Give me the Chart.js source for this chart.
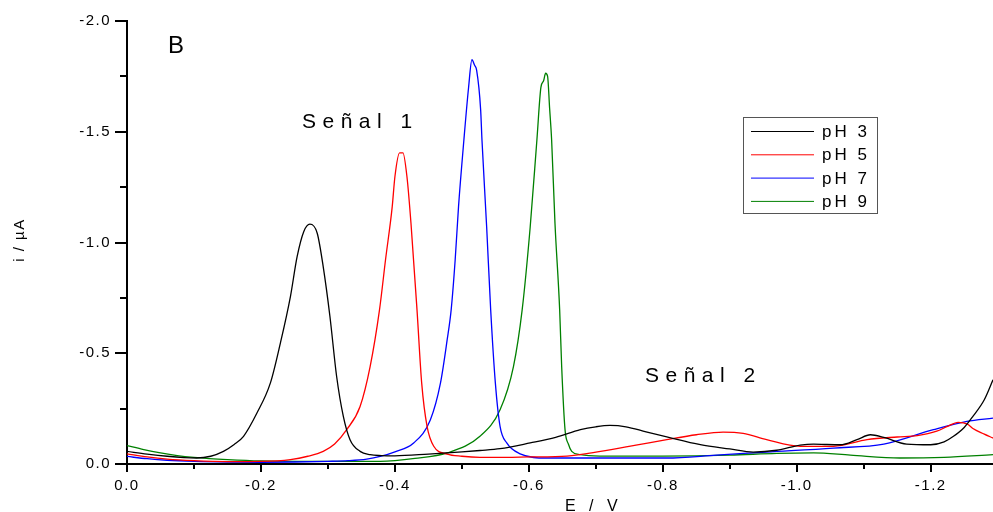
<!DOCTYPE html>
<html>
<head>
<meta charset="utf-8">
<script src="https://cdn.jsdelivr.net/npm/chart.js@4/dist/chart.umd.min.js"></script>
<style>
  html, body { margin: 0; padding: 0; background: #fff; }
  #wrap { width: 993px; height: 512px; }
</style>
</head>
<body>
<div id="wrap"><canvas id="voltChart" width="993" height="512"></canvas></div>
<script>
// Potentials (V) and currents (uA)
const ePH3 = [0, -0.03, -0.06, -0.085, -0.104, -0.125, -0.144, -0.16, -0.174, -0.194, -0.214, -0.229, -0.244, -0.254, -0.264, -0.273, -0.284, -0.293, -0.303, -0.313, -0.323, -0.333, -0.348, -0.363, -0.38, -0.4, -0.45, -0.5, -0.527, -0.557, -0.602, -0.64, -0.677, -0.7, -0.721, -0.745, -0.775, -0.806, -0.856, -0.9, -0.935, -0.97, -1.005, -1.025, -1.045, -1.065, -1.09, -1.11, -1.13, -1.164, -1.2, -1.22, -1.234, -1.25, -1.263, -1.28, -1.293];
const iPH3 = [-0.057, -0.045, -0.035, -0.029, -0.027, -0.035, -0.057, -0.088, -0.125, -0.23, -0.365, -0.546, -0.756, -0.936, -1.05, -1.083, -1.042, -0.89, -0.666, -0.395, -0.215, -0.11, -0.057, -0.042, -0.038, -0.037, -0.045, -0.055, -0.061, -0.069, -0.095, -0.12, -0.155, -0.168, -0.174, -0.168, -0.145, -0.122, -0.087, -0.068, -0.054, -0.062, -0.085, -0.09, -0.088, -0.087, -0.11, -0.132, -0.12, -0.09, -0.087, -0.1, -0.125, -0.165, -0.215, -0.29, -0.38];

const ePH5 = [0, -0.03, -0.06, -0.1, -0.15, -0.2, -0.244, -0.27, -0.293, -0.31, -0.328, -0.348, -0.363, -0.377, -0.386, -0.396, -0.4, -0.407, -0.412, -0.418, -0.424, -0.433, -0.44, -0.448, -0.458, -0.478, -0.5, -0.527, -0.55, -0.6, -0.657, -0.707, -0.76, -0.806, -0.85, -0.89, -0.92, -0.955, -1.005, -1.055, -1.105, -1.15, -1.18, -1.209, -1.225, -1.241, -1.255, -1.263, -1.28, -1.293];
const iPH5 = [-0.046, -0.032, -0.022, -0.015, -0.011, -0.012, -0.02, -0.035, -0.057, -0.09, -0.155, -0.26, -0.44, -0.696, -0.922, -1.162, -1.297, -1.405, -1.405, -1.297, -1.087, -0.696, -0.365, -0.17, -0.08, -0.045, -0.035, -0.03, -0.03, -0.032, -0.036, -0.057, -0.085, -0.11, -0.132, -0.144, -0.138, -0.11, -0.08, -0.08, -0.11, -0.122, -0.128, -0.148, -0.17, -0.188, -0.18, -0.16, -0.135, -0.117];

const ePH7 = [0, -0.03, -0.06, -0.1, -0.15, -0.2, -0.25, -0.3, -0.33, -0.358, -0.378, -0.4, -0.428, -0.453, -0.468, -0.478, -0.484, -0.49, -0.495, -0.503, -0.51, -0.515, -0.519, -0.522, -0.528, -0.53, -0.537, -0.543, -0.55, -0.557, -0.567, -0.587, -0.627, -0.7, -0.806, -0.88, -0.955, -1.055, -1.13, -1.204, -1.254, -1.293];
const iPH7 = [-0.034, -0.024, -0.017, -0.012, -0.009, -0.008, -0.009, -0.012, -0.015, -0.022, -0.034, -0.055, -0.095, -0.2, -0.365, -0.56, -0.696, -0.922, -1.162, -1.463, -1.7, -1.825, -1.8, -1.778, -1.6, -1.463, -1.07, -0.696, -0.365, -0.17, -0.095, -0.046, -0.027, -0.027, -0.027, -0.04, -0.054, -0.072, -0.09, -0.155, -0.192, -0.207];

const ePH9 = [0, -0.025, -0.05, -0.075, -0.1, -0.15, -0.2, -0.3, -0.378, -0.43, -0.478, -0.527, -0.557, -0.577, -0.59, -0.602, -0.612, -0.618, -0.622, -0.625, -0.628, -0.631, -0.634, -0.639, -0.646, -0.649, -0.654, -0.659, -0.664, -0.677, -0.706, -0.8, -0.9, -0.97, -1.025, -1.08, -1.154, -1.22, -1.293];
const iPH9 = [-0.083, -0.065, -0.05, -0.038, -0.03, -0.02, -0.014, -0.012, -0.012, -0.025, -0.05, -0.125, -0.245, -0.44, -0.696, -1.07, -1.463, -1.7, -1.73, -1.764, -1.75, -1.606, -1.463, -1.087, -0.696, -0.44, -0.155, -0.09, -0.057, -0.042, -0.036, -0.036, -0.04, -0.048, -0.05, -0.04, -0.027, -0.03, -0.042];

const seriesLabels = ['pH 3', 'pH 5', 'pH 7', 'pH 9'];
const seriesColors = ['#000000', '#ff0000', '#0000ff', '#008000'];
const seriesE = [ePH3, ePH5, ePH7, ePH9];
const seriesI = [iPH3, iPH5, iPH7, iPH9];

// axis ticks (minor + major)
const xTicks = [0, -0.1, -0.2, -0.3, -0.4, -0.5, -0.6, -0.7, -0.8, -0.9, -1.0, -1.1, -1.2];
const xMajor = [0, -0.2, -0.4, -0.6, -0.8, -1.0, -1.2];
const yTicks = [0, -0.25, -0.5, -0.75, -1.0, -1.25, -1.5, -1.75, -2.0];
const yMajor = [0, -0.5, -1.0, -1.5, -2.0];

const FONT = '"Liberation Sans", Arial, sans-serif';

function isMajor(v, list) {
  return list.some((m) => Math.abs(m - v) < 1e-6);
}

function fmt(v) {
  return (Math.abs(v) < 1e-9 ? 0 : v).toFixed(1);
}

// Build the datasets from the arrays
const datasets = seriesLabels.map((label, k) => ({
  label: label,
  data: seriesE[k].map((e, j) => ({ x: e, y: seriesI[k][j] })),
  borderColor: seriesColors[k],
  borderWidth: 1.3,
  pointRadius: 0,
  fill: false,
  cubicInterpolationMode: 'monotone',
}));

// spaced-out text like the original plot software
const spacing = {
  id: 'spacing',
  beforeDraw(chart) {
    chart.ctx.letterSpacing = '1.5px';
  },
};

// outward tick marks, long for major, short for minor
const tickMarks = {
  id: 'tickMarks',
  afterDraw(chart) {
    const ctx = chart.ctx;
    const area = chart.chartArea;
    const xs = chart.scales.x;
    const ys = chart.scales.y;
    ctx.save();
    ctx.strokeStyle = '#000';
    ctx.lineWidth = 2;
    ctx.beginPath();
    xTicks.forEach((v) => {
      const px = Math.round(xs.getPixelForValue(v));
      const len = isMajor(v, xMajor) ? 8 : 5;
      ctx.moveTo(px, area.bottom);
      ctx.lineTo(px, area.bottom + len);
    });
    yTicks.forEach((v) => {
      const py = Math.round(ys.getPixelForValue(v));
      const len = isMajor(v, yMajor) ? 12 : 7;
      ctx.moveTo(area.left, py);
      ctx.lineTo(area.left - len, py);
    });
    ctx.stroke();
    ctx.restore();
  },
};

// titles, panel letter and signal labels
const labels = {
  id: 'labels',
  afterDraw(chart) {
    const ctx = chart.ctx;
    ctx.save();
    ctx.fillStyle = '#000';
    ctx.textBaseline = 'alphabetic';
    ctx.textAlign = 'left';

    ctx.letterSpacing = '0px';
    ctx.font = '24px ' + FONT;
    ctx.fillText('B', 168, 53);

    ctx.letterSpacing = '6.5px';
    ctx.font = '21px ' + FONT;
    ctx.fillText('Señal 1', 302, 128);
    ctx.fillText('Señal 2', 645, 382);

    ctx.letterSpacing = '4.5px';
    ctx.font = '16px ' + FONT;
    ctx.fillText('E / V', 565, 511);

    ctx.letterSpacing = '1.5px';
    ctx.font = '15px ' + FONT;
    ctx.translate(24, 240);
    ctx.rotate(-Math.PI / 2);
    ctx.textAlign = 'center';
    ctx.fillText('i / µA', 0, 0);
    ctx.restore();
  },
};

// boxed legend inside the plot
const boxLegend = {
  id: 'boxLegend',
  afterDraw(chart) {
    const ctx = chart.ctx;
    ctx.save();
    ctx.strokeStyle = '#555';
    ctx.lineWidth = 1;
    ctx.strokeRect(743.5, 117.5, 134, 96);
    ctx.font = '17px ' + FONT;
    ctx.letterSpacing = '3px';
    ctx.textBaseline = 'middle';
    ctx.fillStyle = '#000';
    chart.data.datasets.forEach((ds, k) => {
      const y = 131.5 + k * 23.3;
      ctx.strokeStyle = ds.borderColor;
      ctx.lineWidth = 1;
      ctx.beginPath();
      ctx.moveTo(751, y);
      ctx.lineTo(814, y);
      ctx.stroke();
      ctx.fillText(ds.label, 822, y + 1);
    });
    ctx.restore();
  },
};

document.addEventListener('DOMContentLoaded', () => {
  const ctx = document.getElementById('voltChart').getContext('2d');
  new Chart(ctx, {
    type: 'line',
    data: { datasets: datasets },
    options: {
      responsive: false,
      animation: false,
      layout: { padding: { top: 21, right: 0, left: 0, bottom: 0 } },
      plugins: {
        legend: { display: false },
        tooltip: { enabled: false },
      },
      scales: {
        x: {
          type: 'linear',
          min: -1.293,
          max: 0,
          reverse: true,
          afterBuildTicks: (scale) => {
            scale.ticks = xTicks.map((v) => ({ value: v }));
          },
          afterFit: (scale) => {
            scale.height = 48;
            scale.paddingLeft = 0;
            scale.paddingRight = 0;
          },
          grid: { display: true, drawOnChartArea: false, drawTicks: false },
          border: { display: true, color: '#000', width: 2 },
          ticks: {
            autoSkip: false,
            maxRotation: 0,
            padding: 13,
            color: '#000',
            font: { family: FONT, size: 15 },
            callback: (v) => (isMajor(v, xMajor) ? fmt(v) : ''),
          },
        },
        y: {
          type: 'linear',
          min: -2.0,
          max: 0,
          reverse: true,
          afterBuildTicks: (scale) => {
            scale.ticks = yTicks.map((v) => ({ value: v }));
          },
          afterFit: (scale) => {
            scale.width = 127;
            scale.paddingTop = 0;
            scale.paddingBottom = 0;
          },
          grid: { display: true, drawOnChartArea: false, drawTicks: false },
          border: { display: true, color: '#000', width: 2 },
          ticks: {
            autoSkip: false,
            padding: 16,
            color: '#000',
            font: { family: FONT, size: 15 },
            callback: (v) => (isMajor(v, yMajor) ? fmt(v) : ''),
          },
        },
      },
    },
    plugins: [spacing, tickMarks, labels, boxLegend],
  });
});
</script>
</body>
</html>
